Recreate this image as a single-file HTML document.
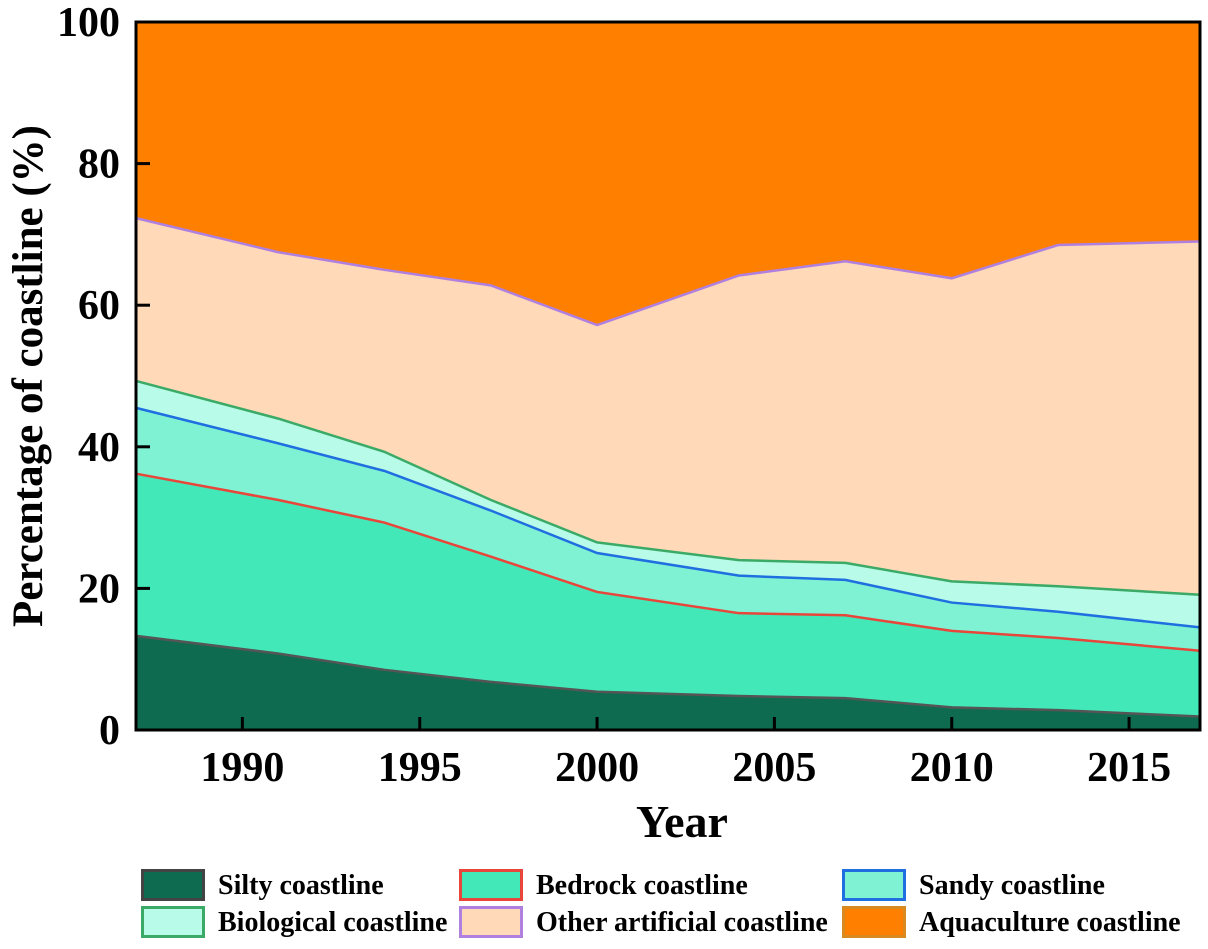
<!DOCTYPE html>
<html><head><meta charset="utf-8"><style>
body{margin:0;background:#fff;}
svg text{font-family:"Liberation Serif",serif;font-weight:bold;fill:#000;}
</style></head><body>
<svg id="chart" width="1208" height="944" viewBox="0 0 1208 944"></svg>
<script>
const years=[1987,1991,1994,1997,2000,2004,2007,2010,2013,2017];
const silty=[13.3,10.8,8.5,6.8,5.4,4.8,4.5,3.2,2.8,1.9];
const bedrock=[22.9,21.7,20.8,17.7,14.1,11.7,11.7,10.8,10.2,9.3];
const sandy=[9.3,8.0,7.3,6.5,5.5,5.3,5.0,4.0,3.7,3.3];
const biological=[3.8,3.5,2.7,1.5,1.5,2.2,2.4,3.0,3.6,4.6];
const otherArtificial=[23.0,23.5,25.7,30.3,30.7,40.2,42.6,42.8,48.2,49.9];
const aquaculture=[27.7,32.5,35.0,37.2,42.8,35.8,33.8,36.2,31.5,31.0];
const xTicks=[1990,1995,2000,2005,2010,2015];
const yTicks=[0,20,40,60,80,100];
const seriesNames=["Silty coastline","Bedrock coastline","Sandy coastline","Biological coastline","Other artificial coastline","Aquaculture coastline"];

const NS="http://www.w3.org/2000/svg";
const svg=document.getElementById('chart');
const L=136,R=1200,T=22,B=730;
const X=y=>L+(y-1987)/(2017-1987)*(R-L);
const Y=v=>B-v/100*(B-T);
function mk(tag,attrs,parent){const e=document.createElementNS(NS,tag);for(const k in attrs)e.setAttribute(k,attrs[k]);(parent||svg).appendChild(e);return e;}
const series=[silty,bedrock,sandy,biological,otherArtificial,aquaculture];
const fills=["#0e6b50","#42e8b8","#80f2d4","#b8fbe8","#ffd9b8","#ff8000"];
const strokes=["#555555","#e8463a","#1f6fe0","#3aaa66","#b080e0","#ff8000"];
const keys=["silty","bedrock","sandy","biological","other-artificial","aquaculture"];
let base=years.map(()=>0);
const lines=[];
series.forEach((s,i)=>{
  const top=base.map((b,j)=>b+s[j]);
  let d="M"+years.map((y,j)=>X(y)+","+Y(top[j])).join("L");
  d+="L"+years.slice().reverse().map((y,j)=>X(y)+","+Y(base[years.length-1-j])).join("L")+"Z";
  const a=mk('path',{d:d,fill:fills[i],stroke:"none"});
  
  
  lines.push({d:"M"+years.map((y,j)=>X(y)+","+Y(top[j])).join("L"),c:strokes[i],k:keys[i],i:i});
  base=top;
});
lines.forEach(l=>{if(l.i===5)return;
  const p=mk('path',{d:l.d,fill:"none",stroke:l.c,"stroke-width":2.5});
  
  
});
const f=mk('rect',{x:L,y:T,width:R-L,height:B-T,fill:"none",stroke:"#000","stroke-width":3});


xTicks.forEach(t=>{
  const ln=mk('line',{x1:X(t),x2:X(t),y1:B,y2:B-13,stroke:"#000","stroke-width":3});
  
  
  const tx=mk('text',{x:X(t),y:781,"font-size":42,"text-anchor":"middle"});tx.textContent=t;
  
  
});
yTicks.forEach(t=>{
  const ln=mk('line',{x1:L,x2:L+14,y1:Y(t),y2:Y(t),stroke:"#000","stroke-width":3});
  
  
  const tx=mk('text',{x:120,y:Y(t)+14,"font-size":42,"text-anchor":"end"});tx.textContent=t;
  
  
});
const xt=mk('text',{x:682,y:837,"font-size":46,"text-anchor":"middle"});xt.textContent="Year";


const yt=mk('text',{x:0,y:0,"font-size":43,"text-anchor":"middle",transform:"translate(42,376) rotate(-90)"});yt.textContent="Percentage of coastline (%)";


const lx=[141,459,842],ly=[869,906];
seriesNames.forEach((n,i)=>{
  const cx=lx[i%3],cy=ly[Math.floor(i/3)];
  const g=mk('g',{});
  
  
  mk('rect',{x:cx+1.5,y:cy+1.5,width:61,height:29,fill:fills[i],stroke:i===0?"#444":(i===5?"#d88a20":strokes[i]),"stroke-width":3},g);
  const t=mk('text',{x:cx+77,y:cy+25,"font-size":28},g);t.textContent=n;
});
</script>
</body></html>
